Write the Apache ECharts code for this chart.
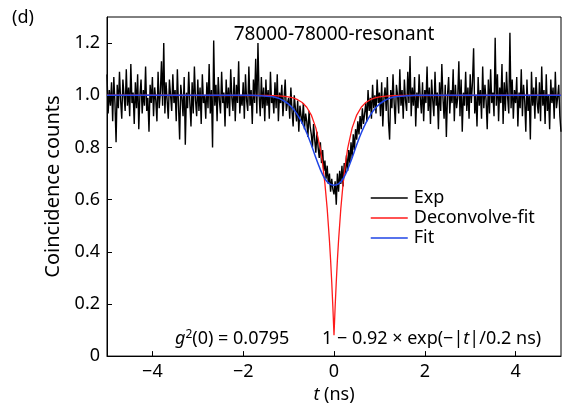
<!DOCTYPE html>
<html>
<head>
<meta charset="utf-8">
<script src="https://cdn.jsdelivr.net/npm/echarts@6/dist/echarts.min.js"></script>
<style>
  html, body { margin: 0; padding: 0; background: #fff; }
  #grafico { width: 566px; height: 409px; }
</style>
</head>
<body>
<div id="grafico"></div>
<script>
/* measured g2 data, one point every 0.025 ns from -5 to 5 ns */
var expStart = -5;
var expStep = 0.025;
var expValues = [
  1.08, 0.93, 1.02, 0.96, 1.05, 0.90, 1.07, 0.97, 0.82, 1.04, 0.95, 1.09, 0.98, 0.91, 1.06, 1.00, 0.94, 1.10, 0.96, 1.03,
  0.92, 1.12, 0.97, 1.01, 0.89, 1.05, 0.95, 1.08, 0.87, 1.00, 1.06, 0.93, 1.02, 0.96, 1.11, 0.94, 0.99, 0.86, 1.04, 0.97,
  1.07, 0.92, 1.03, 0.98, 0.90, 1.09, 0.95, 1.01, 1.13, 0.96, 1.20, 0.93, 1.05, 0.98, 0.91, 1.06, 1.00, 0.94, 1.08, 0.97,
  1.02, 0.90, 1.10, 0.96, 0.83, 1.04, 0.99, 0.92, 1.07, 0.81, 1.01, 0.95, 1.09, 0.97, 0.88, 1.05, 0.93, 1.11, 0.98, 0.92,
  1.06, 0.94, 1.03, 0.89, 1.08, 0.97, 1.00, 0.91, 1.05, 0.95, 1.12, 0.93, 1.02, 0.80, 1.21, 0.96, 1.04, 0.90, 1.07, 0.98,
  0.93, 1.09, 0.97, 1.01, 0.88, 1.06, 0.95, 1.03, 0.92, 1.10, 0.99, 0.94, 1.07, 0.90, 1.04, 0.97, 1.13, 0.93, 1.00, 0.96,
  1.05, 0.91, 1.08, 0.98, 0.94, 1.11, 0.96, 1.02, 0.89, 1.06, 0.97, 1.14, 0.93, 1.20, 1.00, 0.92, 1.07, 0.95, 1.03, 0.90,
  1.06, 0.96, 1.02, 0.91, 1.09, 0.97, 1.00, 0.93, 1.05, 0.95, 1.08, 0.90, 1.01, 0.97, 1.04, 0.92, 0.99, 1.06, 0.94, 0.97,
  0.99, 0.91, 1.03, 0.94, 0.88, 1.00, 0.95, 0.90, 0.98, 0.86, 0.96, 0.92, 0.89, 0.97, 0.87, 0.93, 0.90, 0.84, 0.94, 0.88,
  0.85, 0.80, 0.89, 0.83, 0.78, 0.86, 0.80, 0.76, 0.82, 0.74, 0.79, 0.71, 0.75, 0.68, 0.73, 0.66, 0.70, 0.63, 0.68, 0.64,
  0.62,
  0.67, 0.58, 0.70, 0.63, 0.71, 0.66, 0.73, 0.65, 0.74, 0.70, 0.77, 0.71, 0.79, 0.74, 0.82, 0.76, 0.85, 0.79, 0.87, 0.83,
  0.90, 0.85, 0.92, 0.87, 0.95, 0.89, 0.93, 0.97, 0.90, 1.02, 0.94, 0.99, 0.91, 1.04, 0.95, 1.00, 0.93, 1.06, 0.97, 1.01,
  0.92, 1.05, 0.88, 0.99, 1.03, 0.94, 1.07, 0.90, 0.83, 1.02, 0.95, 1.08, 0.97, 0.89, 1.04, 1.00, 0.93, 1.10, 0.96, 1.02,
  0.91, 1.06, 0.98, 0.94, 1.09, 0.97, 1.15, 0.92, 1.03, 0.96, 1.07, 0.88, 1.01, 0.95, 1.08, 0.99, 0.93, 1.05, 0.90, 1.02,
  0.97, 1.11, 0.94, 1.03, 0.89, 1.06, 0.98, 0.92, 1.09, 0.96, 1.01, 0.87, 1.05, 0.94, 1.12, 0.99, 0.91, 1.04, 0.84, 1.00,
  1.07, 0.93, 1.02, 0.97, 1.10, 0.90, 1.04, 0.95, 0.99, 1.13, 0.92, 1.06, 0.86, 1.01, 0.96, 1.09, 0.94, 1.03, 0.91, 1.08,
  0.97, 1.05, 1.18, 0.93, 1.00, 0.88, 1.07, 0.96, 1.02, 0.91, 1.11, 0.95, 1.04, 0.98, 0.87, 1.06, 0.93, 1.10, 0.97, 1.01,
  0.92, 1.22, 0.96, 1.08, 0.90, 1.03, 0.97, 1.12, 0.89, 1.05, 0.94, 1.09, 0.99, 0.93, 1.24, 0.95, 1.06, 0.91, 1.02, 0.97,
  1.07, 0.88, 1.01, 0.95, 1.10, 0.92, 1.04, 0.98, 0.86, 1.06, 0.94, 1.00, 0.83, 1.09, 0.96, 1.03, 0.91, 1.07, 0.97, 0.93,
  1.05, 0.90, 1.11, 0.96, 1.02, 0.89, 1.08, 0.94, 1.00, 0.87, 1.06, 0.97, 1.03, 0.91, 1.09, 0.95, 0.99, 1.04, 0.92, 0.86
];

/* deconvolved fit, 1 - 0.92 exp(-|t|/0.2 ns) */
var deconvT = [-5, -1.5, -1.2, -1.0, -0.9, -0.8, -0.7, -0.6, -0.5, -0.4, -0.3, -0.25, -0.2, -0.15, -0.1, -0.075, -0.05, -0.025,
  0, 0.025, 0.05, 0.075, 0.1, 0.15, 0.2, 0.25, 0.3, 0.4, 0.5, 0.6, 0.7, 0.8, 0.9, 1.0, 1.2, 1.5, 5];
var deconvV = [1, 0.999, 0.998, 0.994, 0.990, 0.983, 0.972, 0.954, 0.924, 0.875, 0.795, 0.736, 0.661, 0.565, 0.442, 0.369, 0.284, 0.188,
  0.08, 0.188, 0.284, 0.369, 0.442, 0.565, 0.661, 0.736, 0.795, 0.875, 0.924, 0.954, 0.972, 0.983, 0.990, 0.994, 0.998, 0.999, 1];

/* convolved fit */
var fitT = [-5, -1.8, -1.6, -1.4, -1.3, -1.2, -1.1, -1.0, -0.9, -0.8, -0.7, -0.6, -0.5, -0.4, -0.3, -0.2, -0.1,
  0, 0.1, 0.2, 0.3, 0.4, 0.5, 0.6, 0.7, 0.8, 0.9, 1.0, 1.1, 1.2, 1.3, 1.4, 1.6, 1.8, 5];
var fitV = [1, 1, 0.998, 0.995, 0.992, 0.987, 0.978, 0.966, 0.948, 0.924, 0.893, 0.855, 0.81, 0.76, 0.715, 0.68, 0.66,
  0.655, 0.66, 0.68, 0.715, 0.76, 0.81, 0.855, 0.893, 0.924, 0.948, 0.966, 0.978, 0.987, 0.992, 0.995, 0.998, 1, 1];

var xTicks = [-4, -2, 0, 2, 4];
var yTicks = [0, 0.2, 0.4, 0.6, 0.8, 1.0, 1.2];

var fonte = '"Noto Sans", "Open Sans", sans-serif';

function pares(xs, ys) {
    var out = [];
    for (var i = 0; i < ys.length; i++) out.push([xs[i], ys[i]]);
    return out;
}

var expData = [];
for (var i = 0; i < expValues.length; i++) {
    expData.push([+(expStart + i * expStep).toFixed(3), expValues[i]]);
}

var dom = document.getElementById('grafico');
var myChart = echarts.init(dom, null, { renderer: 'canvas' });

var option = {
    animation: false,
    textStyle: { fontFamily: fonte, color: '#000' },
    grid: {
        left: 107, right: 5, top: 17, bottom: 52,
        show: true, borderColor: '#000', borderWidth: 1
    },
    legend: {
        orient: 'vertical',
        left: 370, top: 188, padding: 0,
        itemWidth: 37, itemHeight: 20, itemGap: 0,
        itemStyle: { opacity: 0 },
        lineStyle: { width: 1.5 },
        textStyle: { fontFamily: fonte, fontSize: 18, lineHeight: 20, color: '#000', padding: [0, 0, 0, 1] },
        data: ['Exp', 'Deconvolve-fit', 'Fit']
    },
    xAxis: {
        type: 'value', min: -5, max: 5,
        name: '{i|t} (ns)', nameLocation: 'middle', nameGap: 27,
        nameTextStyle: {
            fontFamily: fonte, fontSize: 18, color: '#000',
            rich: { i: { fontStyle: 'italic', fontFamily: fonte, fontSize: 18, color: '#000' } }
        },
        axisLine: { lineStyle: { color: '#000', width: 1 } },
        axisTick: { inside: true, length: 5, customValues: xTicks, lineStyle: { color: '#000' } },
        axisLabel: {
            customValues: xTicks, margin: 7, fontSize: 18, color: '#000', fontFamily: fonte,
            formatter: function (v) { return v < 0 ? '\u2212' + Math.abs(v) : String(v); }
        },
        splitLine: { show: false }
    },
    yAxis: {
        type: 'value', min: 0, max: 1.3,
        name: 'Coincidence counts', nameLocation: 'middle', nameGap: 38,
        nameTextStyle: { fontFamily: fonte, fontSize: 20, color: '#000' },
        axisLine: { onZero: false, lineStyle: { color: '#000', width: 1 } },
        axisTick: { inside: true, length: 5, customValues: yTicks, lineStyle: { color: '#000' } },
        axisLabel: {
            customValues: yTicks, margin: 7, fontSize: 18, color: '#000', fontFamily: fonte,
            formatter: function (v) { return v === 0 ? '0' : v.toFixed(1); }
        },
        splitLine: { show: false }
    },
    series: [{
        name: 'Exp', type: 'line', symbol: 'none',
        lineStyle: { color: '#000', width: 1.4 }, itemStyle: { color: '#222' },
        data: expData, z: 2
    }, {
        name: 'Deconvolve-fit', type: 'line', symbol: 'none',
        lineStyle: { color: '#ff1a1a', width: 1.3 }, itemStyle: { color: '#ff1a1a' },
        data: pares(deconvT, deconvV), z: 3
    }, {
        name: 'Fit', type: 'line', symbol: 'none', smooth: 0.3,
        lineStyle: { color: '#1f44e6', width: 1.5 }, itemStyle: { color: '#1f44e6' },
        data: pares(fitT, fitV), z: 4
    }],
    graphic: [{
        type: 'text', left: 12, top: 9,
        style: { text: '(d)', fontSize: 18, fontFamily: fonte, fill: '#000' }
    }, {
        type: 'text', x: 334, y: 35,
        style: { text: '78000-78000-resonant', fontSize: 19, fontFamily: fonte, fill: '#000', align: 'center', verticalAlign: 'middle' }
    }, {
        type: 'text', x: 175, y: 339,
        style: {
            text: '{i|g}{s|2}(0) = 0.0795', fill: '#000', verticalAlign: 'middle',
            fontSize: 18, fontFamily: fonte,
            rich: {
                i: { fontStyle: 'italic', fontSize: 18, fontFamily: fonte, fill: '#000' },
                s: { fontSize: 12, fontFamily: fonte, fill: '#000', padding: [0, 0, 9, 0] }
            }
        }
    }, {
        type: 'text', x: 322, y: 339,
        style: {
            text: '1 \u2212 0.92 \u00d7 exp(\u2212|{i|t}|/0.2 ns)', fill: '#000', verticalAlign: 'middle',
            fontSize: 18, fontFamily: fonte,
            rich: { i: { fontStyle: 'italic', fontSize: 18, fontFamily: fonte, fill: '#000' } }
        }
    }]
};

if (option && typeof option === 'object') {
    myChart.setOption(option, true);
}
</script>
</body>
</html>
